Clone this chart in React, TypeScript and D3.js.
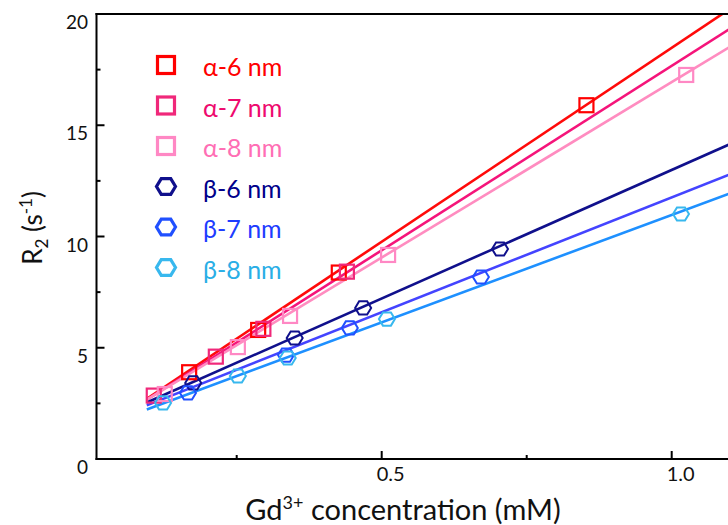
import React from "react";
import * as d3 from "d3";

const seriesNames = ["α-6 nm", "α-7 nm", "α-8 nm", "β-6 nm", "β-7 nm", "β-8 nm"];
const seriesShapes = ["square", "square", "square", "hex", "hex", "hex"];
const markerColors = ["#FF0000", "#F0287A", "#FF88C4", "#10108C", "#2050FF", "#38B8EE"];
const lineColors = ["#FF0A0A", "#F5147A", "#FF8CC0", "#10108C", "#4444FF", "#1E90FF"];
const legendColors = ["#FF0000", "#EE0A6E", "#FF6EB4", "#00008B", "#1E3CFF", "#2AAEE6"];

// measured points [concentration mM, R2 s^-1]
const alpha6 = [[0.168, 3.9], [0.287, 5.8], [0.426, 8.38], [0.853, 15.9]];
const alpha7 = [[0.107, 2.85], [0.214, 4.6], [0.296, 5.85], [0.44, 8.42]];
const alpha8 = [[0.126, 2.92], [0.252, 5.03], [0.342, 6.43], [0.511, 9.17], [1.025, 17.26]];
const beta6 = [[0.175, 3.42], [0.35, 5.44], [0.468, 6.79], [0.704, 9.44]];
const beta7 = [[0.166, 2.97], [0.335, 4.67], [0.445, 5.89], [0.671, 8.18]];
const beta8 = [[0.123, 2.52], [0.252, 3.73], [0.338, 4.54], [0.509, 6.29], [1.016, 11.01]];
const seriesData = [alpha6, alpha7, alpha8, beta6, beta7, beta8];

// linear fits: R2 = intercept + slope * c
const fitIntercepts = [1.05, 1.09, 1.17, 1.44, 1.43, 1.31];
const fitSlopes = [17.43, 16.58, 15.77, 11.55, 10.33, 9.66];
const fitRange = [0.095, 1.15];

const yTicksMajor = [0, 5, 10, 15, 20];
const yTicksMinor = [2.5, 7.5, 12.5, 17.5];
const xTicksMajor = [0.5, 1.0];
const xTicksMinor = [0.25, 0.75];

const W = 728;
const H = 525;
const left = 96.5;
const top = 14;
const bottom = 459;
const FONT = "Lato, 'Open Sans', sans-serif";

const x = d3.scaleLinear().domain([0, 1]).range([91.7, 671.7]);
const y = d3.scaleLinear().domain([0, 20]).range([bottom, top]);

function hexPath(r: number) {
  const pts = d3.range(6).map((i) => {
    const a = (Math.PI / 3) * i;
    return [r * Math.cos(a), r * Math.sin(a) * 0.95];
  });
  return "M" + pts.map((p) => p.join(",")).join("L") + "Z";
}

function Marker({ shape, cx, cy, color, size }: any) {
  if (shape === "square") {
    return (
      <rect x={cx - size / 2} y={cy - size / 2} width={size} height={size}
        fill="none" stroke={color} strokeWidth={size > 14 ? 3.2 : 2.2} />
    );
  }
  return (
    <path d={hexPath(size / 2 + 1)} transform={`translate(${cx},${cy})`}
      fill="none" stroke={color} strokeWidth={size > 14 ? 3.2 : 2} />
  );
}

export default function App() {
  return (
    <svg width={W} height={H} style={{ position: "absolute", left: 0, top: 0, background: "#fff" }}
      fontFamily={FONT}>
      <defs>
        <clipPath id="plotClip">
          <rect x={left} y={top} width={W - left} height={bottom - top} />
        </clipPath>
      </defs>
      <rect x={0} y={0} width={W} height={H} fill="#fff" />

      {/* fit lines */}
      <g clipPath="url(#plotClip)">
        {fitSlopes.map((s, i) => {
          const gen = d3.line<number>().x((c) => x(c)).y((c) => y(fitIntercepts[i] + s * c));
          return (
            <path key={"l" + i} d={gen(fitRange) || ""} fill="none"
              stroke={lineColors[i]} strokeWidth={2.6} />
          );
        })}
      </g>

      {/* points */}
      <g>
        {seriesData.map((pts, i) =>
          pts.map((p, j) => (
            <Marker key={i + "-" + j} shape={seriesShapes[i]} cx={x(p[0])} cy={y(p[1])}
              color={markerColors[i]} size={14} />
          ))
        )}
      </g>

      {/* axes frame */}
      <line x1={left} x2={left} y1={top - 1} y2={bottom + 1} stroke="#000" strokeWidth={2} />
      <line x1={left - 1} x2={W} y1={top} y2={top} stroke="#000" strokeWidth={2} />
      <line x1={left - 1} x2={W} y1={bottom} y2={bottom} stroke="#000" strokeWidth={2} />

      {yTicksMajor.map((t) => (
        <g key={"ym" + t}>
          {t > 0 && t < 20 && (
            <line x1={left} x2={left + 8} y1={y(t)} y2={y(t)} stroke="#000" strokeWidth={2} />
          )}
          <text x={88} y={y(t) + 15} textAnchor="end" fontSize={19} fill="#111">{t}</text>
        </g>
      ))}
      {yTicksMinor.map((t) => (
        <line key={"yn" + t} x1={left} x2={left + 4} y1={y(t)} y2={y(t)} stroke="#000" strokeWidth={2} />
      ))}
      {xTicksMajor.map((t) => (
        <g key={"xm" + t}>
          <line x1={x(t)} x2={x(t)} y1={bottom} y2={bottom - 8} stroke="#000" strokeWidth={2} />
          <text x={x(t) + 9} y={481} textAnchor="middle" fontSize={20} fill="#111">{t.toFixed(1)}</text>
        </g>
      ))}
      {xTicksMinor.map((t) => (
        <line key={"xn" + t} x1={x(t)} x2={x(t)} y1={bottom} y2={bottom - 4} stroke="#000" strokeWidth={2} />
      ))}

      {/* axis titles */}
      <text x={403} y={520} textAnchor="middle" fontSize={29} fill="#111">
        Gd<tspan fontSize={18} dy={-11}>3+</tspan>
        <tspan dy={11}> concentration (mM)</tspan>
      </text>
      <text transform="translate(42,228) rotate(-90)" textAnchor="middle" fontSize={26} fill="#111">
        R<tspan fontSize={17} dy={6}>2</tspan>
        <tspan dy={-6}> (s</tspan>
        <tspan fontSize={17} dy={-10}>-1</tspan>
        <tspan dy={10}>)</tspan>
      </text>

      {/* legend */}
      {seriesNames.map((n, i) => {
        const cy = 65 + i * 40.5;
        return (
          <g key={"lg" + i}>
            <Marker shape={seriesShapes[i]} cx={166} cy={cy} color={markerColors[i]} size={17} />
            <text x={203} y={cy + 11} fontSize={25} fill={legendColors[i]}>{n}</text>
          </g>
        );
      })}
    </svg>
  );
}
